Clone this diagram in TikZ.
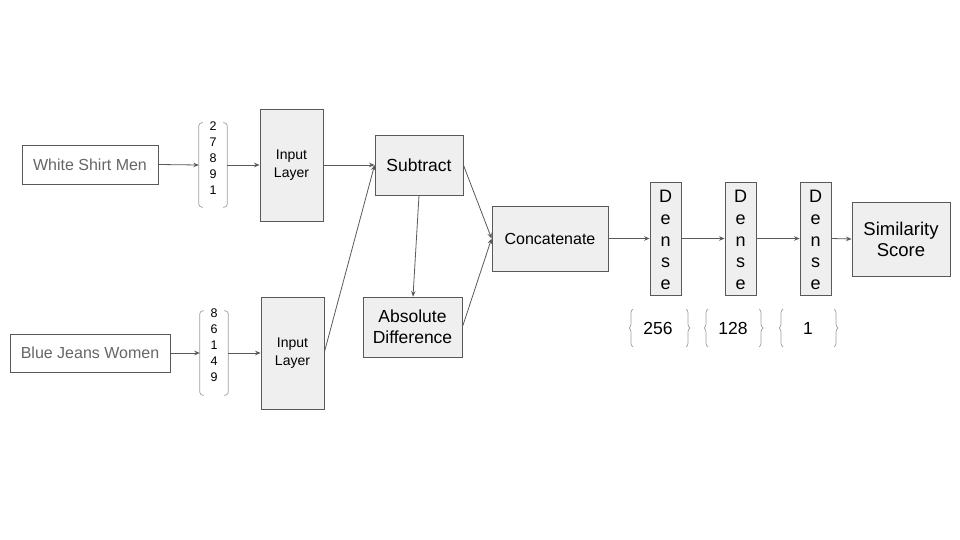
\documentclass[tikz,border=0pt]{standalone}
\usepackage{fontspec}
\setmainfont{Liberation Sans}
\usetikzlibrary{arrows.meta,decorations.pathreplacing}
\definecolor{edge}{HTML}{595959}
\definecolor{boxfill}{HTML}{EFEFEF}
\definecolor{graytext}{HTML}{666666}
\definecolor{bracegray}{HTML}{9E9E9E}
\tikzset{
  box/.style={draw=edge, line width=0.8pt, fill=boxfill, inner sep=0pt, align=center, text=black},
  inbox/.style={draw=edge, line width=0.8pt, fill=white, inner sep=0pt, align=center, text=graytext, font=\fontsize{16}{18}\selectfont},
  vecframe/.style={inner sep=0pt, minimum width=28pt, minimum height=84pt},
  vec/.style={inner sep=0pt, align=center, font=\fontsize{12.5}{16}\selectfont},
  conn/.style={draw=edge, line width=0.8pt, -{Stealth[length=5.5pt,width=4.5pt]}},
  brk/.style={draw=bracegray, line width=0.7pt, rounded corners=3pt},
  curly/.style={draw=bracegray, line width=0.7pt, decorate, decoration={brace, amplitude=4pt}},
  sizelbl/.style={inner sep=0pt, font=\fontsize{17.5}{20}\selectfont},
  densebox/.style={box, minimum width=31pt, minimum height=113pt},
  densetext/.style={inner sep=0pt, align=center, font=\fontsize{18}{21.8}\selectfont}
}
\begin{document}
\begin{tikzpicture}[x=1pt, y=-1pt]
\useasboundingbox (0,0) rectangle (960,540);
\node[inbox, minimum width=136pt, minimum height=39pt] (wsm) at (90,164.5) {White Shirt Men};
\node[inbox, minimum width=160pt, minimum height=38pt] (bjw) at (90,353) {Blue Jeans Women};
\node[vecframe] (v1) at (213,165) {};
\node[vec] (v1t) at (213,158) {2\\7\\8\\9\\1};
\node[vecframe] (v2) at (214,353) {};
\node[vec] (v2t) at (214,345.5) {8\\6\\1\\4\\9};
\draw[brk] ([xshift=4pt]v1.north west) -- (v1.north west) -- (v1.south west) -- ([xshift=4pt]v1.south west);
\draw[brk] ([xshift=-4pt]v1.north east) -- (v1.north east) -- (v1.south east) -- ([xshift=-4pt]v1.south east);
\draw[brk] ([xshift=4pt]v2.north west) -- (v2.north west) -- (v2.south west) -- ([xshift=4pt]v2.south west);
\draw[brk] ([xshift=-4pt]v2.north east) -- (v2.north east) -- (v2.south east) -- ([xshift=-4pt]v2.south east);
\node[box, minimum width=63pt, minimum height=112pt, font=\fontsize{14}{17.5}\selectfont] (in1) at (291.5,165) {Input\\Layer};
\node[box, minimum width=63pt, minimum height=112pt, font=\fontsize{14}{17.5}\selectfont] (in2) at (292.5,353) {Input\\Layer};
\node[box, minimum width=88pt, minimum height=60pt, font=\fontsize{17.5}{20}\selectfont] (sub) at (419,165) {Subtract};
\node[box, minimum width=99pt, minimum height=60pt, font=\fontsize{17.5}{21}\selectfont] (abs) at (412.5,327) {Absolute\\Difference};
\node[box, minimum width=116pt, minimum height=65pt, font=\fontsize{16}{18}\selectfont] (cat) at (550,238.5) {Concatenate};
\node[densebox] (d1) at (665.5,238.5) {};
\node[densebox] (d2) at (740.5,238.5) {};
\node[densebox] (d3) at (815.5,238.5) {};
\node[densetext] (d1t) at (665.5,240) {D\\e\\n\\s\\e};
\node[densetext] (d2t) at (740.5,240) {D\\e\\n\\s\\e};
\node[densetext] (d3t) at (815.5,240) {D\\e\\n\\s\\e};
\node[box, minimum width=98pt, minimum height=74pt, font=\fontsize{18.5}{21}\selectfont] (sim) at (901,239) {Similarity\\Score};
\node[sizelbl] (s1) at (658,328.5) {256};
\node[sizelbl] (s2) at (733,328.5) {128};
\node[sizelbl] (s3) at (808,328.5) {1};
\draw[curly] (633,347) -- (633,309);
\draw[curly] (686,309) -- (686,347);
\draw[curly] (708,347) -- (708,309);
\draw[curly] (759,309) -- (759,347);
\draw[curly] (783,347) -- (783,309);
\draw[curly] (834,309) -- (834,347);
\draw[conn] (wsm.east) -- (v1.west);
\draw[conn] (v1.east) -- (in1.west);
\draw[conn] (in1.east) -- (sub.west);
\draw[conn] (bjw.east) -- (v2.west);
\draw[conn] (v2.east) -- (in2.west);
\draw[conn] ([yshift=1pt]in2.east) -- (sub.west);
\draw[conn] (sub.south) -- ([xshift=0.5pt]abs.north);
\draw[conn] (sub.east) -- (cat.west);
\draw[conn] (abs.east) -- (cat.west);
\draw[conn] (cat.east) -- (d1.west);
\draw[conn] (d1.east) -- (d2.west);
\draw[conn] (d2.east) -- (d3.west);
\draw[conn] (d3.east) -- (sim.west);
\end{tikzpicture}
\end{document}
